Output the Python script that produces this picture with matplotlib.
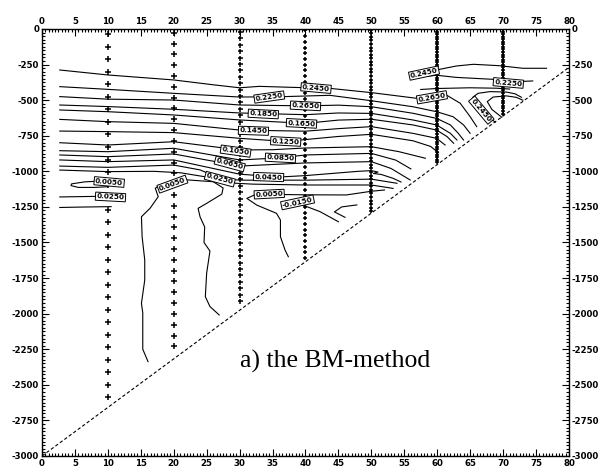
import numpy as np
import matplotlib
matplotlib.use("Agg")
import matplotlib.pyplot as plt
from matplotlib.ticker import MultipleLocator

plt.rcParams['axes.unicode_minus'] = False

# stations: x position, first and last sample depth, sample spacing
station_x = [10, 20, 30, 40, 50, 60, 70]
station_top = [-37, -26, -21, -10, -5, 0, 0]
station_bottom = [-2617, -2290, -1930, -1620, -1290, -945, -605]
station_step = [88, 76, 45, 40, 25, 18, 18]

# sloping bottom
bottom_x = [0, 80]
bottom_y = [-3000, -270]

# contour lines
line_01 = ([2.7, 10, 20, 26, 30, 33, 38, 43.7, 50, 56.9, 59.2, 61.4, 63.5, 65, 66],
           [-288, -323, -358, -392, -413, -403, -410, -417, -447, -487, -478, -464, -522, -616, -686])
line_02 = ([2.7, 10, 20, 30, 36, 43.7, 50, 56.3, 59.9, 62.4, 64, 65],
           [-405, -424, -452, -478, -476, -466, -504, -546, -581, -616, -674, -733])
line_03 = ([2.7, 10, 20, 30, 40, 45, 50, 56.3, 59.9, 62, 63.2, 64],
           [-475, -493, -499, -534, -540, -535, -546, -592, -628, -674, -733, -780])
line_04 = ([2.7, 10, 20, 30, 40, 45, 50, 56.3, 59.9, 62, 63],
           [-534, -545, -564, -590, -602, -590, -593, -639, -674, -733, -780])
line_05 = ([2.7, 10, 20, 30, 40, 45, 50, 56.3, 59.9, 61.5, 62.5],
           [-569, -581, -604, -639, -663, -640, -634, -674, -710, -756, -803])
line_06 = ([2.7, 10, 20, 30, 40, 45, 50, 56.3, 59.9, 61.2],
           [-635, -651, -663, -710, -718, -700, -686, -733, -768, -815])
line_07 = ([2.7, 10, 20, 30, 37, 45, 50, 56.3, 59, 60.2],
           [-717, -721, -728, -768, -790, -755, -740, -785, -825, -870])
line_08 = ([2.7, 10, 20, 30, 35, 40, 50, 54.2, 58.2],
           [-799, -815, -792, -850, -848, -836, -827, -862, -908])
line_09 = ([2.7, 10, 20, 30, 36, 40, 50, 53.7, 56],
           [-855, -862, -838, -920, -906, -885, -874, -921, -983])
line_10 = ([2.7, 10, 20, 30, 40, 50, 53, 55.9],
           [-885, -897, -878, -963, -941, -932, -980, -1061])
line_11 = ([2.7, 10, 20, 30, 36, 40, 48, 50, 51, 50.3, 51.5, 53.3, 54.5],
           [-920, -932, -920, -1020, -1040, -1030, -1000, -995, -1005, -1015, -1022, -1049, -1075])
line_12 = ([2.7, 10, 20, 24, 27, 30, 40, 50, 53.9],
           [-963, -972, -956, -990, -1049, -1062, -1062, -1055, -1084])
line_13 = ([2.7, 10, 17, 21, 25, 28, 32, 40, 50, 53.3],
           [-991, -1002, -1000, -1010, -1040, -1080, -1090, -1096, -1096, -1120])
line_u20 = ([16.1, 15.3, 15.3, 15.3, 15.1, 15.6, 15.6, 15.2, 15.1, 16.4, 17.65, 17.2, 17.8, 19.8, 22,
             26, 27.5, 27.3, 25, 23.7, 24, 24.7, 24.6, 25.5, 25, 24.8, 25.5, 26.9],
            [-2337, -2250, -2100, -1995, -1927, -1764, -1623, -1459, -1319, -1260, -1178, -1119, -1100, -1090, -1060,
             -1073, -1117, -1160, -1225, -1260, -1320, -1391, -1500, -1560, -1715, -1881, -1950, -2009])
line_c35 = ([37.4, 36.9, 36.2, 36.2, 35.6, 32.6, 31.1, 32.3, 34.5, 36.6, 40, 46.2, 50, 52],
            [-1600, -1553, -1459, -1342, -1295, -1237, -1190, -1165, -1160, -1163, -1165, -1166, -1140, -1131])
line_neg = ([38.8, 40.2, 42.2, 45], [-1218, -1248, -1283, -1354])
line_hook = ([47.8, 45.5, 44.4, 46], [-1236, -1250, -1285, -1323])
line_loop = ([9, 6.5, 4.5, 4.4, 5.5, 8, 10], [-1068, -1074, -1088, -1100, -1113, -1113, -1108])
line_left25 = ([2.7, 8, 11], [-1180, -1176, -1180])
line_left_low = ([2.7, 6, 10.5], [-1254, -1251, -1248])
line_tr1 = ([56, 58, 60.4, 62.9, 65.5, 69.5, 73, 76.6], [-330, -310, -283, -260, -248, -258, -276, -276])
line_tr2 = ([56.5, 59.9, 62.9, 67, 69.5, 71, 73, 74.5], [-342, -325, -340, -350, -356, -370, -368, -365])
line_tr3 = ([57.5, 60, 65, 69, 71], [-425, -418, -413, -416, -422])
line_arc1 = ([68.8, 67.5, 66, 65.4, 66.2, 68, 70.5, 71.8, 72.8],
             [-655, -605, -545, -480, -452, -440, -443, -455, -480])
line_arc2 = ([69.8, 68.3, 67.6, 68.5, 70.5, 72, 73], [-620, -565, -510, -478, -470, -480, -500])

contour_lines = [line_01, line_02, line_03, line_04, line_05, line_06, line_07, line_08,
                 line_09, line_10, line_11, line_12, line_13, line_u20, line_c35, line_neg,
                 line_hook, line_loop, line_left25, line_left_low, line_tr1, line_tr2,
                 line_tr3, line_arc1, line_arc2]

# contour labels: text, x, depth, angle
label_text = ["0.2450", "0.2250", "0.2650", "0.1850", "0.1650", "0.1450", "0.1250",
              "0.1050", "0.0850", "0.0650", "0.0450", "0.0250", "0.0050", "-0.0150",
              "0.0050", "0.0250", "0.0050", "0.2450", "0.2250", "0.2650", "0.2450"]
label_x = [41.6, 34.5, 40.0, 33.6, 39.4, 32.1, 37.0, 29.4, 36.2, 28.5, 34.4, 27.0, 34.5, 38.8,
           10.2, 10.4, 19.8, 58.0, 70.8, 59.2, 66.7]
label_y = [-415, -478, -540, -597, -663, -715, -790, -858, -906, -948, -1040, -1055, -1160, -1218,
           -1075, -1180, -1090, -310, -379, -480, -570]
label_rot = [-5, 8, -3, -3, -3, -2, -3, -8, -3, -15, -2, -15, 3, 12, -5, -3, 20, 12, -5, 10, -50]

# marker size per station (sparser stations have bigger crosses)
marker_size = [4.2, 4.2, 3.6, 3.4, 3.4, 3.4, 3.4]

fig = plt.figure(figsize=(6.05, 4.70), dpi=100)
ax = fig.add_axes([0.0694, 0.0298, 0.871, 0.9085])

for cx, cy in contour_lines:
    ax.plot(cx, cy, color='k', lw=0.8, zorder=2)

for sx, top, bot, step, ms in zip(station_x, station_top, station_bottom, station_step, marker_size):
    depths = np.arange(top, bot - 1, -step)
    ax.plot([sx] * len(depths), depths, '+', color='k', ms=ms, mew=1.1, zorder=3)

ax.plot(bottom_x, bottom_y, color='k', lw=0.8, ls=(0, (3, 2)), zorder=2)

for t, lx, ly, r in zip(label_text, label_x, label_y, label_rot):
    ax.text(lx, ly, t, fontsize=5.2, fontweight='bold', rotation=r, ha='center', va='center',
            rotation_mode='anchor', zorder=4,
            bbox=dict(boxstyle='square,pad=0.15', fc='white', ec='k', lw=0.7))

ax.text(30.05, -2382, "a) the BM-method", family='Liberation Serif', fontsize=18.5,
        ha='left', va='baseline')

ax.set_xlim(0, 80)
ax.set_ylim(-3000, 0)
ax.xaxis.set_major_locator(MultipleLocator(5))
ax.xaxis.set_minor_locator(MultipleLocator(0.5))
ax.yaxis.set_major_locator(MultipleLocator(250))
ax.yaxis.set_minor_locator(MultipleLocator(25))
ax.tick_params(which='both', direction='in', top=True, right=True,
               labeltop=True, labelright=True, width=0.8)
ax.tick_params(which='major', length=5, labelsize=6.2, pad=2)
ax.tick_params(which='minor', length=2.5)
for lab in ax.get_xticklabels() + ax.get_yticklabels():
    lab.set_fontweight('bold')
for sp in ax.spines.values():
    sp.set_linewidth(1.0)

fig.savefig("out.png", dpi=100)
